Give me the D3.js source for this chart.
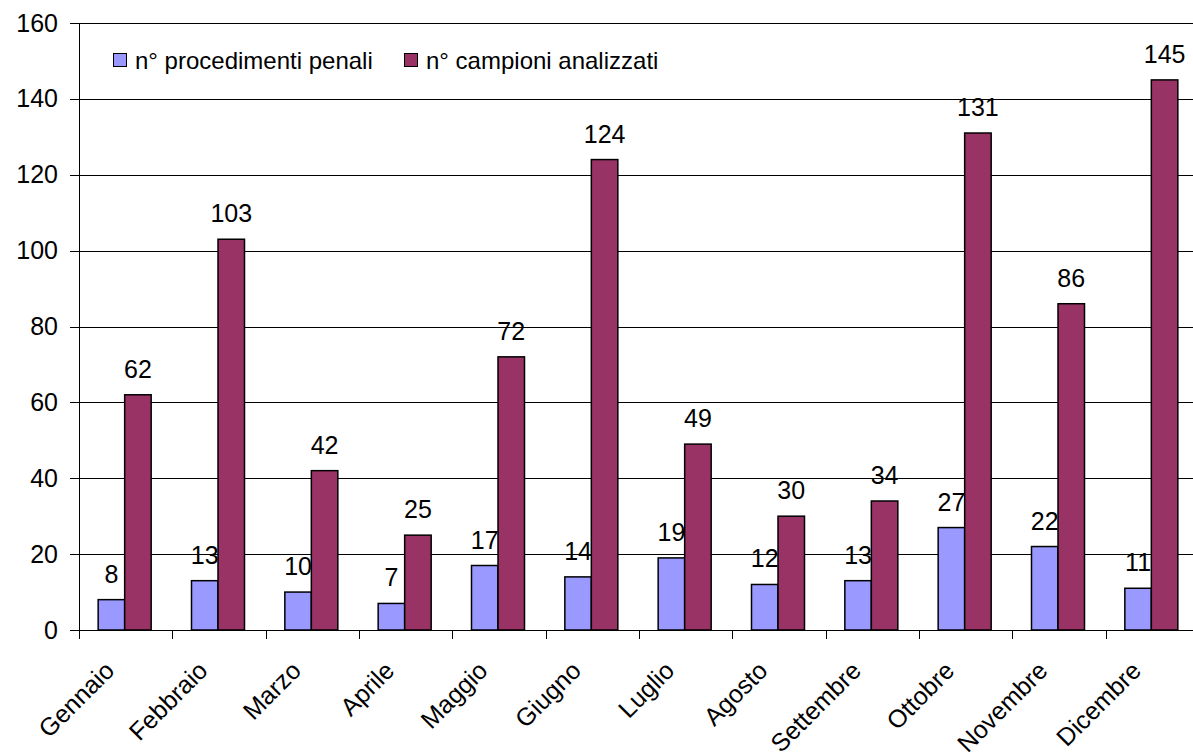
<!DOCTYPE html>
<html>
<head>
<meta charset="utf-8">
<script src="https://cdn.jsdelivr.net/npm/d3@7"></script>
<style>
  body { margin: 0; background: #fff; }
  text { font-family: Arial, "Liberation Sans", sans-serif; fill: #000; }
</style>
</head>
<body>
<div id="chart"></div>
<script>
var months = ["Gennaio", "Febbraio", "Marzo", "Aprile", "Maggio", "Giugno", "Luglio", "Agosto", "Settembre", "Ottobre", "Novembre", "Dicembre"];
var procedimenti = [8, 13, 10, 7, 17, 14, 19, 12, 13, 27, 22, 11];
var campioni = [62, 103, 42, 25, 72, 124, 49, 30, 34, 131, 86, 145];
var seriesNames = ["n° procedimenti penali", "n° campioni analizzati"];
var seriesColors = ["#9999ff", "#993366"];
var yTicks = [0, 20, 40, 60, 80, 100, 120, 140, 160];

var width = 1193, height = 755;
var plotLeft = 79, plotRight = 1199, plotTop = 23, plotBottom = 630;

var svg = d3.select("#chart").append("svg")
    .attr("width", width)
    .attr("height", height);

var x = d3.scaleBand().domain(months).range([plotLeft, plotRight]);
var xs = d3.scaleBand().domain([0, 1]).range([0, 53]);
var y = d3.scaleLinear().domain([0, 160]).range([plotBottom, plotTop]);

// gridlines
svg.selectAll(".grid")
    .data(yTicks.slice(1))
  .enter().append("line")
    .attr("class", "grid")
    .attr("x1", plotLeft).attr("x2", width)
    .attr("y1", function(d) { return Math.round(y(d)) + 0.5; })
    .attr("y2", function(d) { return Math.round(y(d)) + 0.5; })
    .attr("stroke", "#000")
    .attr("stroke-width", 1);

// y axis
var yAxis = d3.axisLeft(y).tickValues(yTicks).tickSize(9).tickPadding(12);
var gy = svg.append("g").attr("transform", "translate(" + plotLeft + ",0)").call(yAxis);
gy.selectAll("text").attr("font-size", "25px").attr("font-family", "Arial, 'Liberation Sans', sans-serif");
gy.selectAll("line, path").attr("stroke", "#000").attr("shape-rendering", "crispEdges");

// bars
var data = months.map(function(m, i) { return {m: m, v: [procedimenti[i], campioni[i]]}; });
var groups = svg.selectAll(".month")
    .data(data)
  .enter().append("g")
    .attr("transform", function(d) { return "translate(" + (x(d.m) + (x.bandwidth() - 53) / 2 - 1) + ",0)"; });

groups.selectAll("rect")
    .data(function(d) { return d.v; })
  .enter().append("rect")
    .attr("x", function(d, i) { return xs(i); })
    .attr("width", xs.bandwidth())
    .attr("y", function(d) { return y(d); })
    .attr("height", function(d) { return plotBottom - y(d); })
    .attr("fill", function(d, i) { return seriesColors[i]; })
    .attr("stroke", "#000")
    .attr("stroke-width", 1.5);

groups.selectAll(".val")
    .data(function(d) { return d.v; })
  .enter().append("text")
    .attr("class", "val")
    .attr("x", function(d, i) { return xs(i) + xs.bandwidth() / 2; })
    .attr("y", function(d) { return y(d) - 17; })
    .attr("text-anchor", "middle")
    .attr("font-size", "25px")
    .text(function(d) { return d; });

// x axis line and category separators
svg.append("line")
    .attr("x1", plotLeft).attr("x2", width)
    .attr("y1", plotBottom + 0.5).attr("y2", plotBottom + 0.5)
    .attr("stroke", "#000");

svg.selectAll(".sep")
    .data(months)
  .enter().append("line")
    .attr("x1", function(d) { return Math.round(x(d)) + 0.5; })
    .attr("x2", function(d) { return Math.round(x(d)) + 0.5; })
    .attr("y1", plotBottom).attr("y2", plotBottom + 9)
    .attr("stroke", "#000");

svg.append("line")
    .attr("x1", plotLeft + 0.5).attr("x2", plotLeft + 0.5)
    .attr("y1", plotTop).attr("y2", plotBottom)
    .attr("stroke", "#000");

// x labels
svg.selectAll(".xlab")
    .data(months)
  .enter().append("text")
    .attr("class", "xlab")
    .attr("text-anchor", "end")
    .attr("font-size", "25px")
    .attr("transform", function(d) {
      return "translate(" + (x(d) + x.bandwidth() / 2 - 16) + "," + (plotBottom + 36) + ") rotate(-45)";
    })
    .attr("dy", "0.35em")
    .text(function(d) { return d; });

// legend
var legend = svg.append("g");
var legendX = [113, 404];
seriesNames.forEach(function(name, i) {
  legend.append("rect")
      .attr("x", legendX[i] + 0.5).attr("y", 53.5)
      .attr("width", 13).attr("height", 13)
      .attr("fill", seriesColors[i])
      .attr("stroke", "#000");
  legend.append("text")
      .attr("x", legendX[i] + 22).attr("y", 69)
      .attr("font-size", "24px")
      .text(name);
});
</script>
</body>
</html>
